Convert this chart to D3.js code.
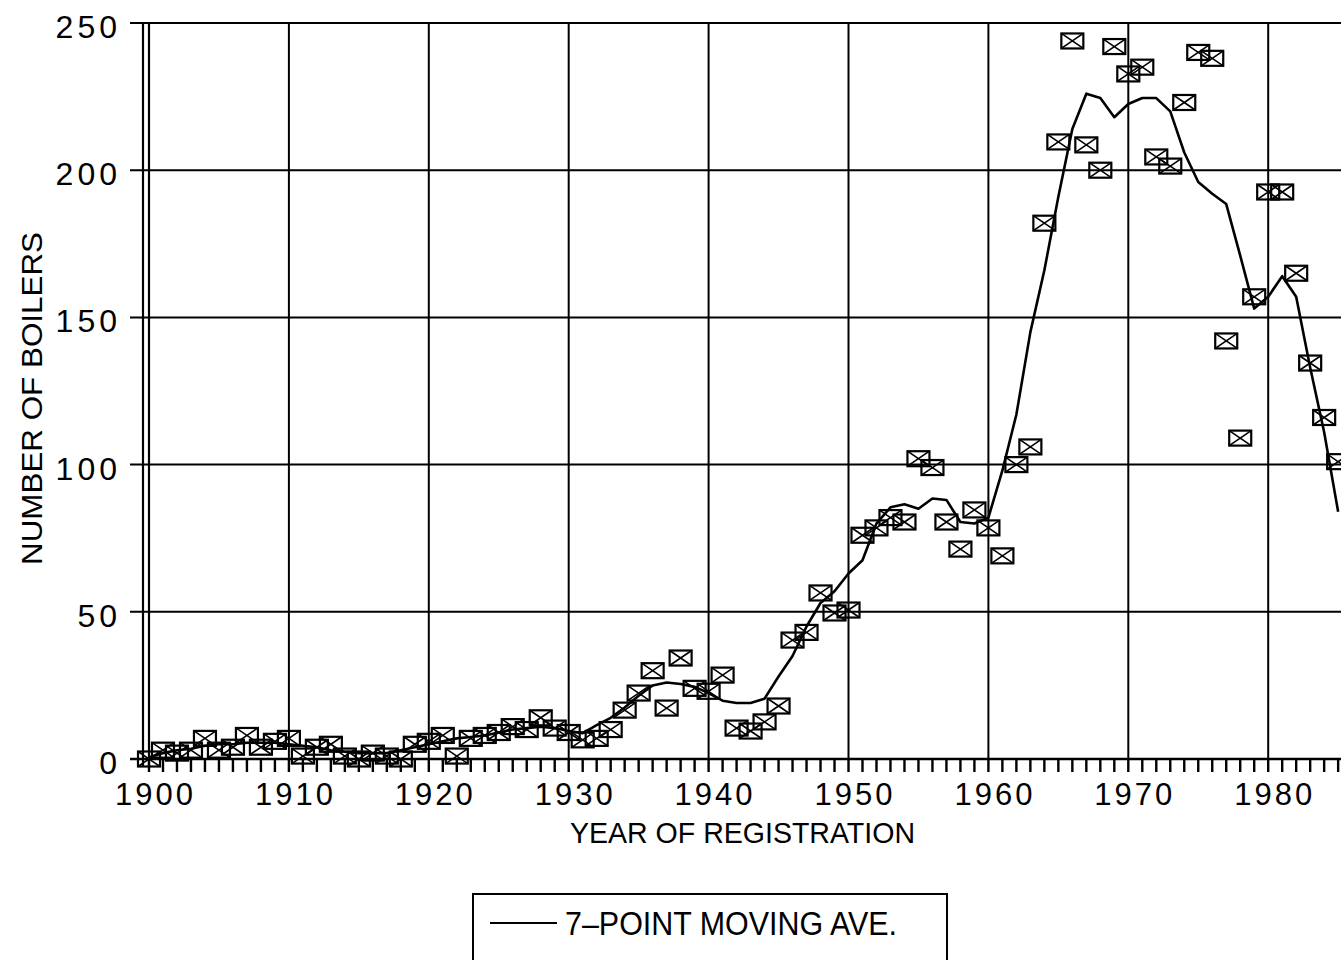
<!DOCTYPE html>
<html>
<head>
    <meta charset="utf-8">
    <title>Number of boilers by year of registration</title>
    <script src="https://d3js.org/d3.v7.min.js"></script>
    <style>
        body { margin: 0; background: #fff; }
        svg { display: block; }
        text { font-family: "Liberation Sans", Arial, sans-serif; fill: #000; }
    </style>
</head>
<body>
<div id="chart"></div>
<script>
    // year of registration
    const years = [
        1900, 1901, 1902, 1903, 1904, 1905, 1906, 1907, 1908, 1909,
        1910, 1911, 1912, 1913, 1914, 1915, 1916, 1917, 1918, 1919,
        1920, 1921, 1922, 1923, 1924, 1925, 1926, 1927, 1928, 1929,
        1930, 1931, 1932, 1933, 1934, 1935, 1936, 1937, 1938, 1939,
        1940, 1941, 1942, 1943, 1944, 1945, 1946, 1947, 1948, 1949,
        1950, 1951, 1952, 1953, 1954, 1955, 1956, 1957, 1958, 1959,
        1960, 1961, 1962, 1963, 1964, 1965, 1966, 1967, 1968, 1969,
        1970, 1971, 1972, 1973, 1974, 1975, 1976, 1977, 1978, 1979,
        1980, 1981, 1982, 1983, 1984, 1985
    ];

    // number of boilers registered (markers)
    const boilers = [
        0, 3, 2, 3, 7, 3, 4, 8, 4, 6,
        7, 1, 4, 5, 1, 0, 2, 1, 0, 5,
        6, 8, 1, 7, 8, 9, 11, 10, 14, 10.5,
        9, 6.5, 7, 10, 16.6, 22.4, 30, 17.3, 34.3, 24,
        23, 28.5, 10.5, 9.5, 12.6, 18, 40.4, 43, 56.4, 49.6,
        50.6, 76, 78.5, 82, 80.5, 102, 99, 80.5, 71.3, 84.6,
        78.5, 69, 100, 106, 182, 209.6, 243.9, 208.6, 200, 242,
        232.7, 235, 204.5, 201.4, 223, 240, 238, 142, 109, 157,
        192.6, 192.6, 165, 134.5, 116, 101
    ];

    // 7-point moving average (line)
    const movingAve = [
        0.5, 2, 3, 3.5, 4.5, 5, 5, 5.5, 5.5, 5.5,
        5, 4.5, 4, 3, 2.5, 2, 2, 2, 3, 4,
        5, 6, 7, 7.5, 8, 9, 10, 10.5, 11, 10.5,
        9.5, 8.8, 11.5, 14, 17.5, 21.5, 25, 26, 25.5, 24.5,
        22.4, 19.8, 19, 19, 20.5, 28, 35, 45, 53, 57,
        63, 67.5, 80, 85.5, 86.5, 85, 88.5, 88, 80.5, 80,
        82, 98, 117, 145, 166, 191, 214, 226, 224.5, 218,
        222.5, 224.5, 224.5, 220, 206, 196, 192, 188.5, 171, 153,
        157, 164, 157, 133, 111, 84
    ];

    const xTickLabels = [1900, 1910, 1920, 1930, 1940, 1950, 1960, 1970, 1980];
    const yTickLabels = [0, 50, 100, 150, 200, 250];

    const width = 1341;
    const height = 960;

    const svg = d3.select("#chart")
        .append("svg")
        .attr("width", width)
        .attr("height", height);

    // scales
    const x = d3.scaleLinear().domain([1900, 1990]).range([149, 1408.1]);
    const y = d3.scaleLinear().domain([0, 250]).range([759, 23]);

    const grid = svg.append("g")
        .attr("stroke", "#000")
        .attr("fill", "none");

    // horizontal grid lines (with the left tick stubs)
    grid.selectAll("line.h")
        .data(yTickLabels)
        .enter().append("line")
        .attr("class", "h")
        .attr("x1", 130)
        .attr("x2", width)
        .attr("y1", d => y(d))
        .attr("y2", d => y(d))
        .attr("stroke-width", d => d === 0 ? 2.6 : 2);

    // vertical decade grid lines
    grid.selectAll("line.v")
        .data(xTickLabels.slice(1))
        .enter().append("line")
        .attr("class", "v")
        .attr("x1", d => x(d))
        .attr("x2", d => x(d))
        .attr("y1", y(250))
        .attr("y2", y(0))
        .attr("stroke-width", 2);

    // double line for the y axis
    [x(1900) - 6, x(1900)].forEach(px => {
        grid.append("line")
            .attr("x1", px).attr("x2", px)
            .attr("y1", y(250)).attr("y2", y(0) + 8)
            .attr("stroke-width", 2.2);
    });

    // yearly ticks under the x axis
    grid.selectAll("line.t")
        .data(years)
        .enter().append("line")
        .attr("class", "t")
        .attr("x1", d => x(d))
        .attr("x2", d => x(d))
        .attr("y1", y(0))
        .attr("y2", y(0) + 13)
        .attr("stroke-width", 2.4);

    // tick labels
    svg.append("g")
        .selectAll("text")
        .data(yTickLabels)
        .enter().append("text")
        .attr("x", 121)
        .attr("y", d => y(d) + 15)
        .attr("text-anchor", "end")
        .attr("font-size", 32)
        .attr("letter-spacing", "4px")
        .text(d => d);

    svg.append("g")
        .selectAll("text")
        .data(xTickLabels)
        .enter().append("text")
        .attr("x", d => x(d) + 6.5)
        .attr("y", 805)
        .attr("text-anchor", "middle")
        .attr("font-size", 31)
        .attr("letter-spacing", "3px")
        .text(d => d);

    // axis titles
    svg.append("text")
        .attr("x", 570)
        .attr("y", 843)
        .attr("font-size", 30)
        .attr("textLength", 345)
        .attr("lengthAdjust", "spacingAndGlyphs")
        .text("YEAR OF REGISTRATION");

    svg.append("text")
        .attr("transform", "translate(42,565) rotate(-90)")
        .attr("font-size", 30)
        .attr("textLength", 333)
        .attr("lengthAdjust", "spacingAndGlyphs")
        .text("NUMBER OF BOILERS");

    // moving average line
    const line = d3.line()
        .x((d, i) => x(years[i]))
        .y(d => y(d));

    svg.append("path")
        .datum(movingAve)
        .attr("fill", "none")
        .attr("stroke", "#000")
        .attr("stroke-width", 2.6)
        .attr("stroke-linejoin", "round")
        .attr("d", line);

    // boxed-X markers
    const mw = 11, mh = 7.5;
    const marker = svg.append("g")
        .attr("stroke", "#000")
        .attr("stroke-width", 2.2)
        .attr("fill", "none")
        .selectAll("g")
        .data(boilers)
        .enter().append("g")
        .attr("transform", (d, i) => `translate(${x(years[i])},${y(d)})`);

    marker.append("rect")
        .attr("x", -mw).attr("y", -mh)
        .attr("width", mw * 2).attr("height", mh * 2);

    marker.append("path")
        .attr("stroke-width", 1.6)
        .attr("d", `M${-mw},${-mh}L${mw},${mh}M${-mw},${mh}L${mw},${-mh}`);

    // legend
    const legend = svg.append("g");

    legend.append("rect")
        .attr("x", 473)
        .attr("y", 894)
        .attr("width", 474)
        .attr("height", 100)
        .attr("fill", "none")
        .attr("stroke", "#000")
        .attr("stroke-width", 2);

    legend.append("line")
        .attr("x1", 490)
        .attr("x2", 557)
        .attr("y1", 923)
        .attr("y2", 923)
        .attr("stroke", "#000")
        .attr("stroke-width", 2.2);

    legend.append("text")
        .attr("x", 565)
        .attr("y", 935)
        .attr("font-size", 33)
        .attr("textLength", 332)
        .attr("lengthAdjust", "spacingAndGlyphs")
        .text("7–POINT MOVING AVE.");
</script>
</body>
</html>
